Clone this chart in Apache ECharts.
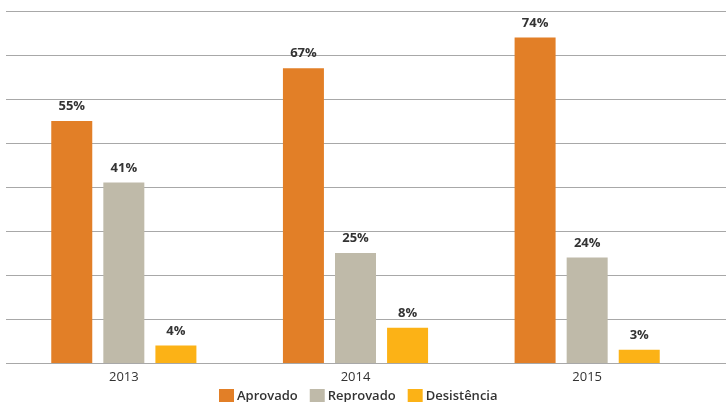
<!DOCTYPE html>
<html>
<head>
<meta charset="utf-8">
<script src="https://cdn.jsdelivr.net/npm/echarts@6/dist/echarts.min.js"></script>
<style>
  html, body { margin: 0; padding: 0; background: #fff; }
  #chart { width: 726px; height: 402px; }
</style>
</head>
<body>
<div id="chart"></div>
<script>
// Results by year (percent of students)
const years = ['2013', '2014', '2015'];
const aprovado = [55, 67, 74];
const reprovado = [41, 25, 24];
const desistencia = [4, 8, 3];
const seriesNames = ['Aprovado', 'Reprovado', 'Desistência'];
const colors = ['#E27F27', '#BFBAA9', '#FCB216'];

const font = '"Open Sans", "Noto Sans", sans-serif';

function barSeries(name, data, color) {
  return {
    name: name,
    type: 'bar',
    xAxisIndex: 1,
    yAxisIndex: 1,
    data: data,
    barWidth: 41,
    barGap: '27%',
    itemStyle: { color: color },
    label: {
      show: true,
      position: 'top',
      distance: 8,
      formatter: '{c}%',
      color: '#333',
      fontFamily: font,
      fontWeight: 'bold',
      fontSize: 13
    }
  };
}

const chart = echarts.init(document.getElementById('chart'));
chart.setOption({
  animation: false,
  color: colors,
  legend: {
    data: seriesNames,
    left: 214,
    top: 384,
    itemWidth: 15,
    itemHeight: 15,
    itemGap: 12,
    icon: 'rect',
    textStyle: { color: '#333', fontFamily: font, fontSize: 13, fontWeight: 600, padding: [0, 0, 0, -2] }
  },
  grid: [
    // full-width grid that carries the horizontal rules
    { left: 6, right: 0, top: 11, bottom: 39 },
    // grid holding the bars
    { left: 8, right: 23, top: 11, bottom: 39 }
  ],
  xAxis: [
    {
      type: 'category', gridIndex: 0, data: years, show: false
    },
    {
      type: 'category', gridIndex: 1, data: years,
      axisLine: { show: false },
      axisTick: { show: false },
      axisLabel: { color: '#333', fontFamily: font, fontSize: 13, margin: 8 }
    }
  ],
  yAxis: [
    {
      type: 'value', gridIndex: 0, min: 0, max: 80, interval: 10,
      axisLine: { show: false }, axisTick: { show: false }, axisLabel: { show: false },
      splitLine: { lineStyle: { color: '#a8a8a8', width: 1.2 } }
    },
    {
      type: 'value', gridIndex: 1, min: 0, max: 80, interval: 10,
      axisLine: { show: false }, axisTick: { show: false }, axisLabel: { show: false },
      splitLine: { show: false }
    }
  ],
  series: [
    barSeries(seriesNames[0], aprovado, colors[0]),
    barSeries(seriesNames[1], reprovado, colors[1]),
    barSeries(seriesNames[2], desistencia, colors[2])
  ]
});
</script>
</body>
</html>
